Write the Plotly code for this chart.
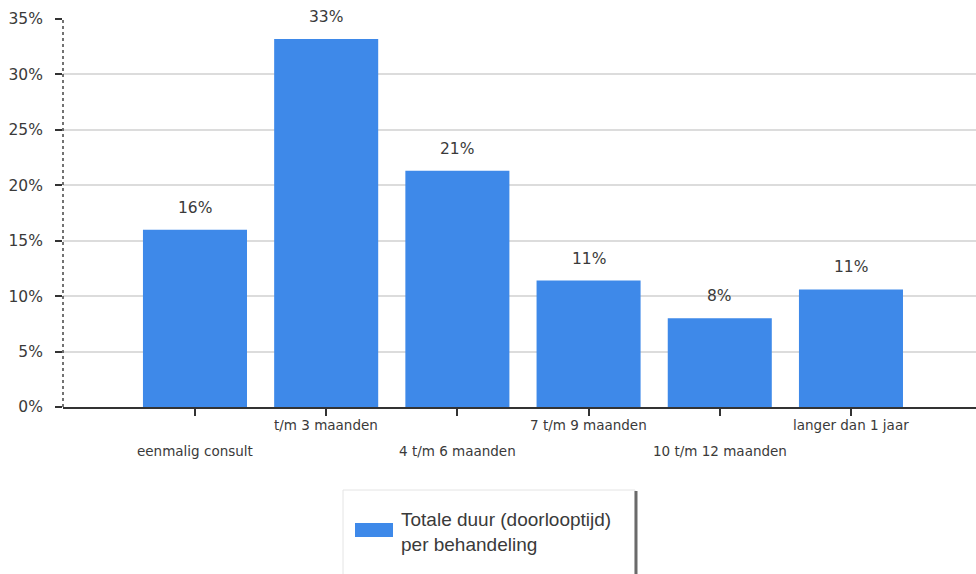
import plotly.graph_objects as go

# Duration of treatment, share of cases (%)
categories = ["eenmalig consult", "t/m 3 maanden", "4 t/m 6 maanden",
              "7 t/m 9 maanden", "10 t/m 12 maanden", "langer dan 1 jaar"]
shares = [16.0, 33.2, 21.3, 11.4, 8.0, 10.6]
series_name = "Totale duur (doorlooptijd)<br>per behandeling"
y_ticks = [0, 5, 10, 15, 20, 25, 30, 35]

BAR = "#3E89E9"
TXT = "#3a3a3a"
FONT = "DejaVu Sans, Verdana, sans-serif"
LEG_FONT = "Liberation Sans, Arial, sans-serif"

W, H = 976, 574
L, R, T, B = 63, 0, 19, 167
PW, PH = W - L - R, H - T - B


def px_x(p):
    return (p - L) / PW


def px_y(p):
    return (H - B - p) / PH


fig = go.Figure()
fig.add_trace(go.Bar(
    x=categories, y=shares, marker=dict(color=BAR, line=dict(width=0)),
    name=series_name, showlegend=False,
))

annotations = []
# value labels above the bars
for c, v in zip(categories, shares):
    annotations.append(dict(
        x=c, y=v, xref="x", yref="y", text=f"{v:.0f}%", showarrow=False,
        yanchor="bottom", yshift=11, font=dict(family=FONT, size=15.5, color=TXT),
    ))
# staggered category labels
for i, c in enumerate(categories):
    annotations.append(dict(
        x=c, y=px_y(451 if i % 2 == 0 else 425), xref="x", yref="paper",
        text=c, showarrow=False, yanchor="middle",
        font=dict(family=FONT, size=13.5, color=TXT),
    ))
# legend text
annotations.append(dict(
    x=px_x(399), y=px_y(532), xref="paper", yref="paper", text=series_name,
    showarrow=False, xanchor="left", yanchor="middle", align="left",
    font=dict(family=LEG_FONT, size=19, color=TXT),
))

shapes = [
    # dotted y axis line
    dict(type="line", xref="paper", yref="paper", x0=0, x1=0, y0=0, y1=1,
         line=dict(color="#444444", width=1.5, dash="dot")),
    # legend box with shadowed right edge
    dict(type="rect", xref="paper", yref="paper",
         x0=px_x(343), x1=px_x(635), y0=px_y(580), y1=px_y(490),
         line=dict(color="#e4e4e4", width=1), fillcolor="white"),
    dict(type="line", xref="paper", yref="paper",
         x0=px_x(636), x1=px_x(636), y0=px_y(580), y1=px_y(491),
         line=dict(color="#6a6a6a", width=3)),
    # legend swatch
    dict(type="rect", xref="paper", yref="paper",
         x0=px_x(355), x1=px_x(393), y0=px_y(537), y1=px_y(523),
         line=dict(width=0), fillcolor=BAR),
]

fig.update_layout(
    width=W, height=H,
    margin=dict(l=L, r=R, t=T, b=B, pad=0),
    paper_bgcolor="white", plot_bgcolor="white",
    bargap=0.207,
    font=dict(family=FONT, color=TXT),
    annotations=annotations, shapes=shapes,
    xaxis=dict(
        type="category", categoryorder="array", categoryarray=categories,
        range=[-1.006, 5.953], showgrid=False, zeroline=False,
        showline=True, linecolor="#333333", linewidth=2,
        ticks="outside", ticklen=7, tickwidth=2, tickcolor="#333333",
        showticklabels=False,
    ),
    yaxis=dict(
        range=[0, 35], tickvals=y_ticks, ticktext=[f"{t}%" for t in y_ticks],
        showgrid=True, gridcolor="#dcdcdc", gridwidth=1.5, zeroline=False,
        showline=False, ticks="outside", ticklen=7, tickwidth=2,
        tickcolor="#333333", ticklabelstandoff=9,
        tickfont=dict(family=FONT, size=15.5, color=TXT),
    ),
)

fig.write_html("out.html")
